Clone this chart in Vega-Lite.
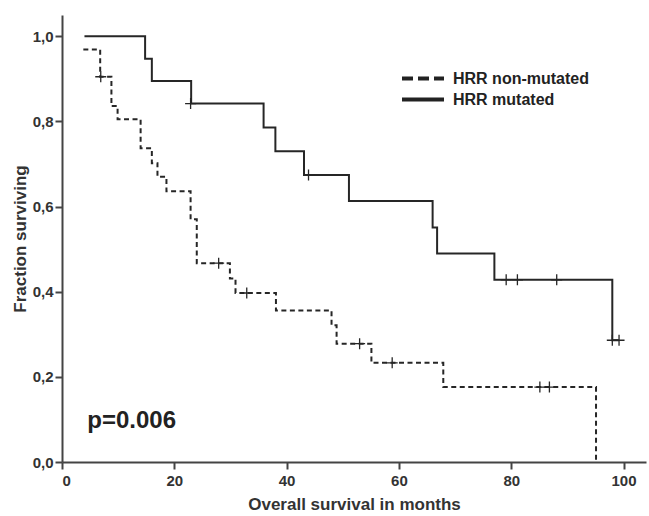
{
  "$schema": "https://vega.github.io/schema/vega-lite/v6.json",
  "width": 584,
  "height": 447,
  "autosize": {"type": "none"},
  "padding": {"left": 62, "top": 15, "right": 3, "bottom": 54},
  "background": "white",
  "config": {
    "view": {"stroke": null},
    "font": "Liberation Sans",
    "axis": {
      "grid": false,
      "domainColor": "#444444",
      "domainWidth": 2,
      "tickColor": "#444444",
      "tickWidth": 2,
      "tickSize": 7,
      "labelFont": "Liberation Sans",
      "labelFontSize": 15,
      "labelFontWeight": "bold",
      "labelColor": "#333333",
      "titleFont": "Liberation Sans",
      "titleFontSize": 17,
      "titleFontWeight": "bold",
      "titleColor": "#333333"
    }
  },
  "datasets": {
    "curve": [
      {"group": "HRR mutated", "months": 4.0, "fraction": 1.0},
      {"group": "HRR mutated", "months": 14.8, "fraction": 0.947},
      {"group": "HRR mutated", "months": 16.0, "fraction": 0.895},
      {"group": "HRR mutated", "months": 23.0, "fraction": 0.842},
      {"group": "HRR mutated", "months": 35.9, "fraction": 0.786},
      {"group": "HRR mutated", "months": 38.0, "fraction": 0.730},
      {"group": "HRR mutated", "months": 43.1, "fraction": 0.674},
      {"group": "HRR mutated", "months": 51.1, "fraction": 0.613},
      {"group": "HRR mutated", "months": 66.0, "fraction": 0.551},
      {"group": "HRR mutated", "months": 66.8, "fraction": 0.490},
      {"group": "HRR mutated", "months": 77.0, "fraction": 0.428},
      {"group": "HRR mutated", "months": 98.0, "fraction": 0.286},
      {"group": "HRR mutated", "months": 99.2, "fraction": 0.286},
      {"group": "HRR non-mutated", "months": 3.8, "fraction": 0.969},
      {"group": "HRR non-mutated", "months": 6.8, "fraction": 0.905},
      {"group": "HRR non-mutated", "months": 8.8, "fraction": 0.836},
      {"group": "HRR non-mutated", "months": 9.9, "fraction": 0.805},
      {"group": "HRR non-mutated", "months": 14.0, "fraction": 0.737},
      {"group": "HRR non-mutated", "months": 16.0, "fraction": 0.702},
      {"group": "HRR non-mutated", "months": 17.0, "fraction": 0.670},
      {"group": "HRR non-mutated", "months": 18.6, "fraction": 0.636},
      {"group": "HRR non-mutated", "months": 22.9, "fraction": 0.570},
      {"group": "HRR non-mutated", "months": 24.0, "fraction": 0.467},
      {"group": "HRR non-mutated", "months": 29.9, "fraction": 0.431},
      {"group": "HRR non-mutated", "months": 30.9, "fraction": 0.397},
      {"group": "HRR non-mutated", "months": 38.1, "fraction": 0.356},
      {"group": "HRR non-mutated", "months": 48.0, "fraction": 0.321},
      {"group": "HRR non-mutated", "months": 48.9, "fraction": 0.278},
      {"group": "HRR non-mutated", "months": 55.1, "fraction": 0.233},
      {"group": "HRR non-mutated", "months": 67.9, "fraction": 0.176},
      {"group": "HRR non-mutated", "months": 95.1, "fraction": 0.0}
    ],
    "censor": [
      {"group": "HRR mutated", "months": 22.9, "fraction": 0.842},
      {"group": "HRR mutated", "months": 43.9, "fraction": 0.674},
      {"group": "HRR mutated", "months": 79.1, "fraction": 0.428},
      {"group": "HRR mutated", "months": 81.1, "fraction": 0.428},
      {"group": "HRR mutated", "months": 88.1, "fraction": 0.428},
      {"group": "HRR mutated", "months": 98.0, "fraction": 0.286},
      {"group": "HRR mutated", "months": 99.2, "fraction": 0.286},
      {"group": "HRR non-mutated", "months": 6.9, "fraction": 0.905},
      {"group": "HRR non-mutated", "months": 27.9, "fraction": 0.467},
      {"group": "HRR non-mutated", "months": 32.9, "fraction": 0.397},
      {"group": "HRR non-mutated", "months": 53.0, "fraction": 0.278},
      {"group": "HRR non-mutated", "months": 58.8, "fraction": 0.233},
      {"group": "HRR non-mutated", "months": 85.1, "fraction": 0.176},
      {"group": "HRR non-mutated", "months": 86.8, "fraction": 0.176}
    ],
    "note": [
      {"months": 4.5, "fraction": 0.081, "label": "p=0.006"}
    ]
  },
  "encoding": {
    "x": {
      "field": "months",
      "type": "quantitative",
      "scale": {"domain": [0, 104], "nice": false, "zero": false},
      "axis": {
        "title": "Overall survival in months",
        "values": [0, 20, 40, 60, 80, 100],
        "labelPadding": 4,
        "titlePadding": 8
      }
    },
    "y": {
      "field": "fraction",
      "type": "quantitative",
      "scale": {"domain": [0, 1.05], "nice": false},
      "axis": {
        "title": "Fraction surviving",
        "values": [0, 0.2, 0.4, 0.6, 0.8, 1.0],
        "labelExpr": "replace(format(datum.value, '.1f'), '.', ',')",
        "labelPadding": 2,
        "titlePadding": 3
      }
    }
  },
  "layer": [
    {
      "data": {"name": "curve"},
      "mark": {"type": "line", "interpolate": "step-after", "strokeWidth": 2, "color": "#262626"},
      "encoding": {
        "strokeDash": {
          "field": "group",
          "type": "nominal",
          "scale": {"domain": ["HRR non-mutated", "HRR mutated"], "range": [[5, 3.5], [1, 0]]},
          "legend": null
        }
      }
    },
    {
      "data": {"name": "curve"},
      "transform": [{"filter": "false"}],
      "mark": {"type": "line", "interpolate": "step-after", "strokeWidth": 4, "color": "#222222"},
      "encoding": {
        "strokeDash": {
          "field": "group",
          "type": "nominal",
          "scale": {"domain": ["HRR non-mutated", "HRR mutated"], "range": [[11, 5], [1, 0]]},
          "legend": {
            "title": null,
            "orient": "none",
            "legendX": 338,
            "legendY": 55,
            "padding": 0,
            "symbolType": "stroke",
            "symbolSize": 1764,
            "symbolStrokeWidth": 4,
            "symbolStrokeColor": "#222222",
            "clipHeight": 17,
            "rowPadding": 4,
            "labelOffset": 7,
            "labelFont": "Liberation Sans",
            "labelFontSize": 16,
            "labelFontWeight": "bold",
            "labelColor": "#222222"
          }
        }
      }
    },
    {
      "data": {"name": "censor"},
      "mark": {"type": "point", "shape": "M-1,0H1M0,-1V1", "filled": false, "size": 121, "strokeWidth": 1.3, "color": "#262626", "opacity": 1}
    },
    {
      "data": {"name": "note"},
      "mark": {"type": "text", "align": "left", "baseline": "alphabetic", "fontSize": 24, "fontWeight": "bold", "color": "#222222", "font": "Liberation Sans"},
      "encoding": {"text": {"field": "label", "type": "nominal"}}
    }
  ],
  "resolve": {"scale": {"strokeDash": "independent"}, "legend": {"strokeDash": "independent"}}
}
